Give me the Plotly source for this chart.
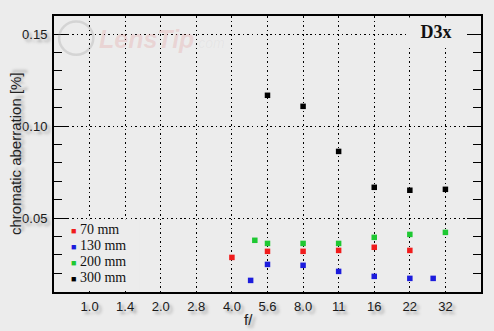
import plotly.graph_objects as go

# ---- data ----
stop_labels = ["1.0", "1.4", "2.0", "2.8", "4.0", "5.6", "8.0", "11", "16", "22", "32"]
stop_values = [1.0, 1.414, 2.0, 2.828, 4.0, 5.657, 8.0, 11.31, 16.0, 22.63, 32.0]

f_70 = [4.0, 5.657, 8.0, 11.31, 16.0, 22.63]
ca_70 = [0.0286, 0.0319, 0.0319, 0.0324, 0.0341, 0.0324]

f_130 = [4.8, 5.657, 8.0, 11.31, 16.0, 22.63, 28.4]
ca_130 = [0.0161, 0.0248, 0.0243, 0.0210, 0.0183, 0.0172, 0.0172]

f_200 = [5.0, 5.657, 8.0, 11.31, 16.0, 22.63, 32.0]
ca_200 = [0.0379, 0.0362, 0.0362, 0.0362, 0.0395, 0.0411, 0.0422]

f_300 = [5.657, 8.0, 11.31, 16.0, 22.63, 32.0]
ca_300 = [0.1167, 0.1107, 0.0862, 0.0667, 0.0651, 0.0656]

series = [
    ("70 mm", f_70, ca_70, "#f01c1c"),
    ("130 mm", f_130, ca_130, "#1c1cdc"),
    ("200 mm", f_200, ca_200, "#1ec832"),
    ("300 mm", f_300, ca_300, "#000000"),
]

BG = "#ececec"
SHADOW = "3px 3px 3px #a0a0a0"
tick_font = dict(family="Liberation Sans, Arial, sans-serif", size=13, color="#1a1a1a",
                 shadow=SHADOW)

fig = go.Figure()
for name, xs, ys, col in series:
    fig.add_trace(go.Scatter(x=xs, y=ys, mode="markers", name=name, showlegend=False,
                             marker=dict(symbol="square", size=5.5, color=col)))

fig.update_layout(
    width=494, height=331,
    margin=dict(l=54, r=13, t=16, b=39),
    paper_bgcolor=BG, plot_bgcolor=BG,
    xaxis=dict(type="log", range=[-0.1505, 1.6557],
               tickvals=stop_values, ticktext=stop_labels,
               showgrid=True, gridcolor="black", griddash="1.5px,3px", gridwidth=1,
               showline=True, linecolor="black", linewidth=2, mirror=True,
               ticks="", tickfont=tick_font, ticklabelstandoff=1, zeroline=False),
    yaxis=dict(range=[0.0098, 0.1598], tick0=0.05, dtick=0.05,
               tickformat=".2f",
               showgrid=True, gridcolor="black", griddash="1.5px,3px", gridwidth=1,
               showline=True, linecolor="black", linewidth=2, mirror="ticks",
               ticks="inside", ticklen=14, tickcolor="black", tickwidth=1.2,
               minor=dict(dtick=0.01, tick0=0.0, ticks="inside", ticklen=8,
                          tickcolor="black", tickwidth=1.2, showgrid=False),
               tickfont=tick_font, ticklabelstandoff=2, zeroline=False),
)

# watermark
fig.add_annotation(xref="paper", yref="paper", x=0.1, y=1.0, yshift=-7,
                   xanchor="left", yanchor="top", showarrow=False,
                   text="<b><i>LensTip</i></b><span style='font-size:14px;color:rgba(150,150,150,0.3)'><i>.com</i></span>",
                   font=dict(family="Liberation Sans, Arial", size=25,
                             color="rgba(225,140,140,0.25)"))
fig.add_shape(type="circle", xref="paper", yref="paper",
              x0=0.012, x1=0.092, y0=0.86, y1=0.98,
              line=dict(color="rgba(150,150,150,0.28)", width=2.5))

# legend background (hides grid behind the legend block)
fig.add_shape(type="rect", xref="paper", yref="y", layer="above",
              x0=0.025, x1=0.2, y0=0.0112, y1=0.0494,
              fillcolor=BG, line=dict(width=0))

# D3x label
fig.add_annotation(xref="paper", yref="paper", x=1, y=1, xshift=-15, yshift=-1,
                   xanchor="right", yanchor="top", showarrow=False,
                   text="<b>D3x</b>", width=56, height=26, bgcolor=BG, align="center",
                   font=dict(family="Liberation Serif, Times New Roman, serif", size=18, color="#111"))

# legend (text-based, one row per series)
for i, (n, _, _, c) in enumerate(series):
    fig.add_annotation(xref="paper", yref="paper", x=0, y=0, xshift=15,
                       yshift=63 - 16.3 * i,
                       xanchor="left", yanchor="middle", showarrow=False, align="left",
                       text=f"<span style='color:{c};font-size:9px'>■</span> {n}",
                       font=dict(family="Liberation Serif, Times New Roman, serif", size=14,
                                 color="#111"))

# axis titles
fig.add_annotation(xref="paper", yref="paper", x=0, y=0.5, xshift=-39,
                   xanchor="center", yanchor="middle", showarrow=False, textangle=-90,
                   text="chromatic aberration [%]",
                   font=dict(family="Liberation Sans, Arial, sans-serif", size=15, color="#222",
                             shadow=SHADOW))
fig.add_annotation(xref="paper", yref="paper", x=0.455, y=0, yshift=-27,
                   xanchor="center", yanchor="middle", showarrow=False,
                   text="f/",
                   font=dict(family="Liberation Sans, Arial, sans-serif", size=15, color="#222",
                             shadow=SHADOW))

fig.write_html("out.html")
